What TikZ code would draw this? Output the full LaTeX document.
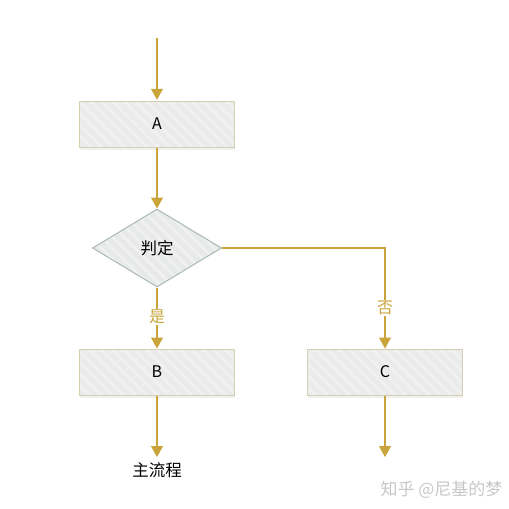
\documentclass[tikz,border=0pt]{standalone}
\usepackage{fontspec}
\setmainfont{Noto Sans CJK SC}
\usetikzlibrary{arrows.meta,shapes.geometric,patterns.meta,shadows}
\definecolor{arrowc}{HTML}{C8A43A}
\definecolor{boxfill}{HTML}{EBEBEB}
\definecolor{boxdraw}{HTML}{D6CEB0}
\definecolor{diafill}{HTML}{E8EAEA}
\definecolor{diadraw}{HTML}{A9BAB2}
\definecolor{stripe}{HTML}{F1F1F1}
\tikzset{
  procbox/.style={rectangle, minimum width=155pt, minimum height=46pt, draw=boxdraw, line width=1pt,
    preaction={fill=boxfill, drop shadow={opacity=0.12, shadow xshift=0pt, shadow yshift=-2.5pt}},
    pattern={Lines[angle=-45,distance=8pt,line width=2.5pt]}, pattern color=stripe,
    font=\fontsize{16}{18}\selectfont, text=black},
  decision/.style={diamond, aspect=1.65, inner sep=0pt, minimum width=129pt, minimum height=78pt,
    draw=diadraw, line width=1pt,
    preaction={fill=diafill},
    pattern={Lines[angle=-45,distance=8pt,line width=2.5pt]}, pattern color=stripe,
    font=\fontsize{16.5}{18}\selectfont, text=black},
  flow/.style={draw=arrowc, line width=1.1pt, -{Triangle[width=12pt,length=11pt]}, arrowc},
  lbl/.style={font=\fontsize{16}{18}\selectfont, text=arrowc, fill=white, inner sep=1pt},
  plain/.style={font=\fontsize{16.5}{18}\selectfont, text=black},
  wm/.style={font=\fontsize{17}{19}\selectfont, text=black!22}
}
\begin{document}
\begin{tikzpicture}[x=1pt,y=-1pt]
\useasboundingbox (0,0) rectangle (509,509);
\coordinate (start) at (157,38);
\node[procbox] (A) at (157,124) {A};
\node[decision] (D) at (157,248) {判定};
\node[procbox] (B) at (157,372) {B};
\node[procbox] (C) at (385,372) {C};
\coordinate (Bend) at (157,457);
\coordinate (Cend) at (385,457);
\coordinate (corner) at (385,248);
\node[plain] (main) at (157,470) {主流程};
\node[wm, anchor=east] (water) at (506,490) {知乎 @尼基的梦};

\draw[flow] (start) -- (A.north);
\draw[flow] (A.south) -- (D.north);
\draw[flow] (D.south) -- node[lbl, pos=0.48] (yes) {是} (B.north);
\draw[flow] (D.east) -- (corner) -- node[lbl, pos=0.6] (no) {否} (C.north);
\draw[flow] (B.south) -- (Bend);
\draw[flow] (C.south) -- (Cend);
\end{tikzpicture}
\end{document}
